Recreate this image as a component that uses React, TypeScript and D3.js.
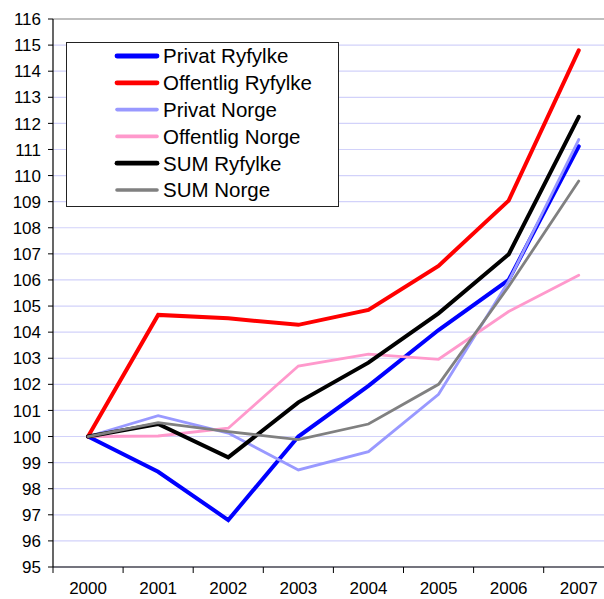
import React from 'react'
import { scaleBand, scaleLinear, line, range } from 'd3'

const years = ['2000', '2001', '2002', '2003', '2004', '2005', '2006', '2007']
const privatRyfylke = [100, 98.65, 96.8, 100.0, 101.94, 104.08, 106.0, 111.12]
const offentligRyfylke = [100, 104.66, 104.53, 104.28, 104.85, 106.54, 109.04, 114.8]
const privatNorge = [100, 100.8, 100.13, 98.72, 99.42, 101.62, 105.95, 111.38]
const offentligNorge = [100, 100.02, 100.32, 102.7, 103.16, 102.96, 104.79, 106.18]
const sumRyfylke = [100, 100.48, 99.2, 101.31, 102.83, 104.72, 106.98, 112.25]
const sumNorge = [100, 100.53, 100.19, 99.88, 100.48, 102.0, 105.75, 109.79]
const yTicks = range(95, 117)

const series = [
  { name: 'Privat Ryfylke', values: privatRyfylke, color: '#0000ff', width: 4 },
  { name: 'Offentlig Ryfylke', values: offentligRyfylke, color: '#ff0000', width: 4 },
  { name: 'Privat Norge', values: privatNorge, color: '#9999ff', width: 2.8 },
  { name: 'Offentlig Norge', values: offentligNorge, color: '#ff99cc', width: 2.8 },
  { name: 'SUM Ryfylke', values: sumRyfylke, color: '#000000', width: 4 },
  { name: 'SUM Norge', values: sumNorge, color: '#808080', width: 2.8 },
]

const width = 604
const height = 599
const margin = { left: 53, top: 19, bottom: 567 }
const bandStep = 70.1

export default function App() {
  const x = scaleBand<string>()
    .domain(years)
    .range([margin.left, margin.left + bandStep * years.length])
  const y = scaleLinear().domain([95, 116]).range([margin.bottom, margin.top])

  const cx = (i: number) => (x(years[i]) as number) + x.bandwidth() / 2
  const path = line<number>()
    .x((_, i) => cx(i))
    .y(d => y(d))

  const font = '"Liberation Sans", Arial, sans-serif'
  const plotRight = margin.left + bandStep * years.length

  return (
    <svg width={width} height={height} style={{ position: 'absolute', left: 0, top: 0, overflow: 'hidden' }}>
      <rect width={width} height={height} fill="#fff" />
      {/* gridlines */}
      {yTicks.slice(0, -1).map(t => (
        <line key={t} x1={margin.left} x2={plotRight} y1={y(t)} y2={y(t)} stroke="#d2d2fa" strokeWidth={1.2} />
      ))}
      <line x1={margin.left} x2={plotRight} y1={y(116)} y2={y(116)} stroke="#808080" strokeWidth={1.2} />

      {/* y axis */}
      <line x1={margin.left} x2={margin.left} y1={margin.top} y2={margin.bottom} stroke="#000" strokeWidth={1.2} />
      {yTicks.map(t => (
        <g key={t}>
          <line x1={margin.left - 5} x2={margin.left} y1={y(t)} y2={y(t)} stroke="#000" />
          <text x={41} y={y(t)} dy="0.36em" textAnchor="end" fontSize={17} fontFamily={font}>{t}</text>
        </g>
      ))}

      {/* x axis */}
      <line x1={margin.left} x2={plotRight} y1={margin.bottom} y2={margin.bottom} stroke="#000" strokeWidth={1.2} />
      {years.map((yr, i) => (
        <g key={yr}>
          <line x1={x(yr)} x2={x(yr)} y1={margin.bottom} y2={margin.bottom + 6} stroke="#000" />
          <text x={cx(i)} y={594} textAnchor="middle" fontSize={17} fontFamily={font}>{yr}</text>
        </g>
      ))}

      {/* lines */}
      {series.map(s => (
        <path key={s.name} d={path(s.values) || ''} fill="none" stroke={s.color} strokeWidth={s.width}
          strokeLinecap="round" strokeLinejoin="miter" />
      ))}

      {/* legend */}
      <rect x={66.5} y={42.5} width={272} height={164} fill="#fff" stroke="#222" strokeWidth={1} />
      {series.map((s, i) => {
        const ly = 56 + i * 26.8
        return (
          <g key={s.name}>
            <line x1={117} x2={157} y1={ly} y2={ly} stroke={s.color} strokeWidth={s.width + 0.8} strokeLinecap="round" />
            <text x={163} y={ly} dy="0.36em" fontSize={20.5} fontFamily={font}>{s.name}</text>
          </g>
        )
      })}
    </svg>
  )
}
